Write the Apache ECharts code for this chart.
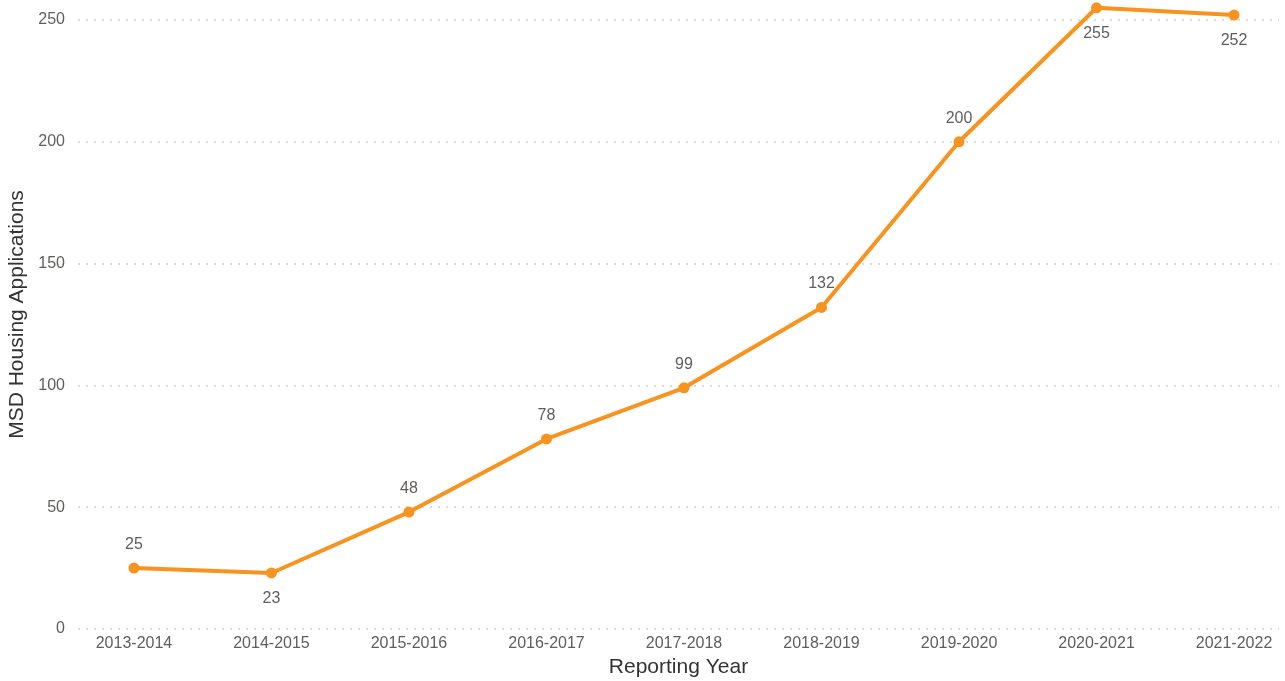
<!DOCTYPE html>
<html>
<head>
<meta charset="utf-8">
<script src="https://cdn.jsdelivr.net/npm/echarts@6/dist/echarts.min.js"></script>
<style>
  html, body { margin: 0; padding: 0; background: #fff; }
  #main { width: 1285px; height: 681px; }
</style>
</head>
<body>
<div id="main"></div>
<script>
// 数据
var years = ['2013-2014', '2014-2015', '2015-2016', '2016-2017', '2017-2018',
             '2018-2019', '2019-2020', '2020-2021', '2021-2022'];
var applications = [25, 23, 48, 78, 99, 132, 200, 255, 252];
// labels that sit under the point instead of above it
var labelBelow = ['2014-2015', '2020-2021', '2021-2022'];

var points = [];
for (var i = 0; i < years.length; i++) {
    points.push({
        value: [i, applications[i]],
        label: {
            position: labelBelow.indexOf(years[i]) >= 0 ? 'bottom' : 'top',
            distance: labelBelow.indexOf(years[i]) >= 0 ? 12 : 10
        }
    });
}

var myChart = echarts.init(document.getElementById('main'));
myChart.setOption({
    animation: false,
    grid: { left: 78, right: 6, top: 0, bottom: 52, containLabel: false, outerBoundsMode: 'none' },
    xAxis: {
        type: 'value',
        min: -0.407,
        max: 8.327,
        splitNumber: 9,
        name: 'Reporting Year',
        nameLocation: 'middle',
        nameGap: 26,
        nameTextStyle: { fontSize: 21, color: '#333', fontFamily: 'Liberation Sans' },
        axisLine: { show: false },
        axisTick: { show: false },
        splitLine: { show: false },
        axisLabel: {
            margin: 7,
            fontSize: 16,
            color: '#605E5C',
            fontFamily: 'Liberation Sans',
            showMinLabel: false,
            showMaxLabel: false,
            formatter: function (v) {
                return Number.isInteger(v) ? (years[v] || '') : '';
            }
        }
    },
    yAxis: {
        type: 'value',
        min: 0,
        max: 258.2,
        interval: 50,
        name: 'MSD Housing Applications',
        nameLocation: 'middle',
        nameGap: 50,
        nameTextStyle: { fontSize: 21, color: '#333', fontFamily: 'Liberation Sans' },
        axisLine: { show: false },
        axisTick: { show: false },
        axisLabel: {
            margin: 13,
            fontSize: 16,
            color: '#605E5C',
            fontFamily: 'Liberation Sans',
            showMaxLabel: false
        },
        splitLine: {
            showMaxLine: false,
            lineStyle: { color: '#CFCFCF', type: [2, 6], width: 1.5 }
        }
    },
    series: [{
        type: 'line',
        data: points,
        symbol: 'circle',
        symbolSize: 11,
        lineStyle: { color: '#F7931E', width: 4 },
        itemStyle: { color: '#F7931E' },
        label: {
            show: true,
            fontSize: 16,
            color: '#605E5C',
            fontFamily: 'Liberation Sans',
            formatter: function (p) { return p.value[1]; }
        }
    }]
});
</script>
</body>
</html>
